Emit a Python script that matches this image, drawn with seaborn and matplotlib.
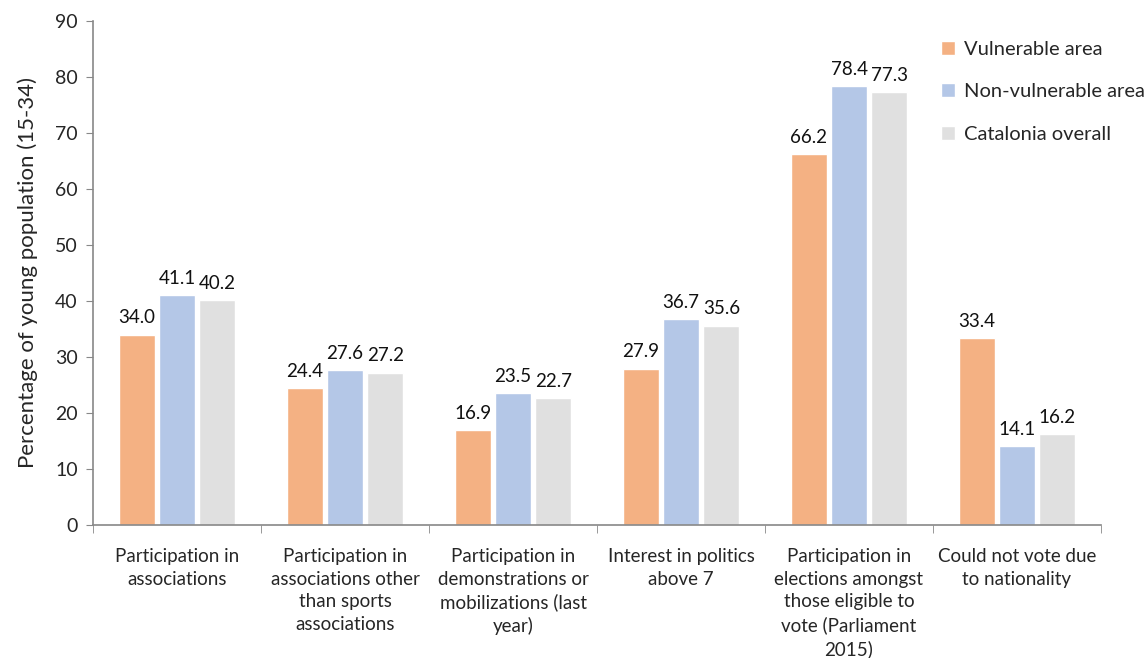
import pandas as pd
import numpy as np
import matplotlib.pyplot as plt
import seaborn as sns

sns.set_style("white")
plt.rcParams['font.family'] = ['Lato', 'DejaVu Sans']

categories = [
    "Participation in\nassociations",
    "Participation in\nassociations other\nthan sports\nassociations",
    "Participation in\ndemonstrations or\nmobilizations (last\nyear)",
    "Interest in politics\nabove 7",
    "Participation in\nelections amongst\nthose eligible to\nvote (Parliament\n2015)",
    "Could not vote due\nto nationality",
]
series = ["Vulnerable area", "Non-vulnerable area", "Catalonia overall"]
vulnerable = [34.0, 24.4, 16.9, 27.9, 66.2, 33.4]
non_vulnerable = [41.1, 27.6, 23.5, 36.7, 78.4, 14.1]
catalonia = [40.2, 27.2, 22.7, 35.6, 77.3, 16.2]
colors = ["#F4B183", "#B4C7E7", "#E0E0E0"]

df = pd.DataFrame({
    "category": categories * 3,
    "series": [series[0]] * 6 + [series[1]] * 6 + [series[2]] * 6,
    "value": vulnerable + non_vulnerable + catalonia,
})

fig = plt.figure(figsize=(11.46, 6.58), dpi=100)
ax = fig.add_axes([93 / 1146, 1 - 525 / 658, (1101 - 93) / 1146, (525 - 21) / 658])

sns.barplot(data=df, x="category", y="value", hue="series", palette=colors,
            width=0.72, gap=0.1, ax=ax, errorbar=None, saturation=1, legend=True)

for c in ax.containers:
    ax.bar_label(c, fmt="%.1f", padding=6, fontsize=13.5, color="#111111")

ax.set_ylim(0, 90)
ax.set_xlim(-0.5, 5.5)
ax.set_yticks(np.arange(0, 91, 10))
ax.set_ylabel("Percentage of young population (15-34)", fontsize=16, labelpad=12)
ax.set_xlabel("")
for s in ["top", "right"]:
    ax.spines[s].set_visible(False)
for s in ["left", "bottom"]:
    ax.spines[s].set_color("#888888")
    ax.spines[s].set_linewidth(1.2)

ax.tick_params(axis="y", which="major", left=True, length=5, color="#888888",
               labelsize=14, pad=6)
ax.tick_params(axis="x", which="major", bottom=False, labelsize=13.5, pad=13)
for t in ax.get_xticklabels():
    t.set_linespacing(1.4)
ax.set_xticks(np.arange(-0.5, 6, 1), minor=True)
ax.tick_params(axis="x", which="minor", bottom=True, length=6, color="#888888")

h, l = ax.get_legend_handles_labels()
ax.legend_.remove()
fig.legend(h, l, loc="upper left", bbox_to_anchor=(933 / 1146, 1 - 33 / 658),
           frameon=False, fontsize=14.5, handlelength=0.7, handleheight=0.7,
           handletextpad=0.45, labelspacing=1.25, borderaxespad=0)

fig.savefig("out.png", dpi=100)
